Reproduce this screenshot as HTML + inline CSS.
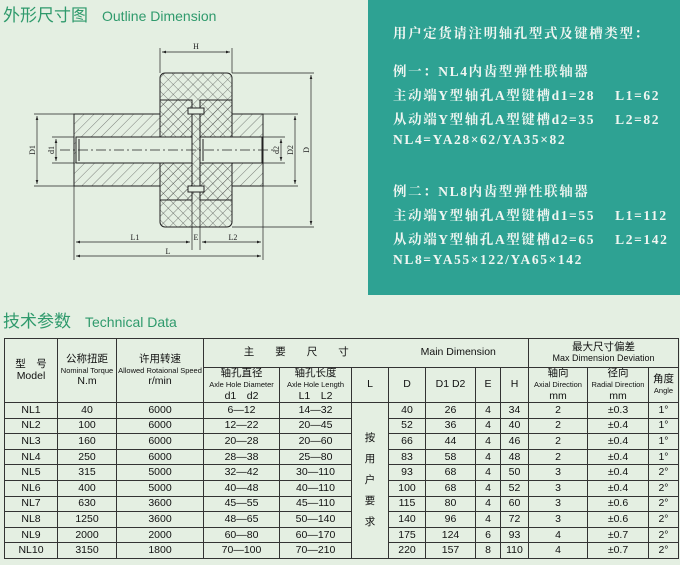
<!DOCTYPE html>
<html><head><meta charset="utf-8">
<style>
*{margin:0;padding:0;box-sizing:border-box}
body{width:680px;height:565px;background:#e4efe2;position:relative;overflow:hidden;font-family:"Liberation Sans","Noto Sans CJK SC",sans-serif}
.t1{position:absolute;left:3px;top:1px;font-size:17px;color:#2f9a6c;white-space:nowrap}
.t1 span{font-size:14px;margin-left:14px}
.t2{position:absolute;left:3px;top:307px;font-size:17px;color:#2f9a6c;white-space:nowrap}
.t2 span{font-size:14px;margin-left:14px}
.box{position:absolute;left:368px;top:0;width:312px;height:295px;background:#2ea293;color:#f0f6f2;font-family:"Liberation Serif","Noto Serif CJK SC",serif;font-weight:bold;font-size:13.5px}
.box div{position:absolute;left:25px;white-space:nowrap;letter-spacing:1.6px}
table{position:absolute;left:4px;top:338px;border-collapse:collapse;table-layout:fixed;font-family:"Liberation Sans Narrow","Liberation Sans","Noto Sans CJK SC",sans-serif;font-size:10.5px;color:#111}
td{border:1px solid #333;text-align:center;vertical-align:middle;line-height:1.05;overflow:hidden;white-space:nowrap}
.s{font-size:7.5px}
tr.d td{height:15.6px}
</style></head><body>
<div class="t1">外形尺寸图<span>Outline Dimension</span></div>
<div class="t2">技术参数<span>Technical Data</span></div>

<svg style="position:absolute;left:0;top:0" width="368" height="300">
<defs>
<pattern id="h" width="7" height="7" patternUnits="userSpaceOnUse" patternTransform="rotate(45)"><line x1="0" y1="0" x2="0" y2="7" stroke="#333" stroke-width="0.6"/></pattern>
<pattern id="x" width="7" height="7" patternUnits="userSpaceOnUse" patternTransform="rotate(45)"><line x1="0" y1="0" x2="0" y2="7" stroke="#333" stroke-width="0.6"/><line x1="0" y1="0" x2="7" y2="0" stroke="#333" stroke-width="0.6"/></pattern>
<marker id="a" markerWidth="6" markerHeight="6" refX="6" refY="3" orient="auto"><path d="M0,1 L6,3 L0,5z" fill="#222"/></marker>
<marker id="b" markerWidth="6" markerHeight="6" refX="0" refY="3" orient="auto"><path d="M6,1 L0,3 L6,5z" fill="#222"/></marker>
</defs>
<g stroke="#222" stroke-width="1">
<rect x="160" y="73" width="72" height="154" rx="5" fill="url(#x)"/>
<path d="M74,114 H160 V100 H192 V200 H160 V186 H74z" fill="url(#h)"/>
<path d="M263,114 H232 V100 H200 V200 H232 V186 H263z" fill="url(#h)"/>
<rect x="188" y="108" width="16" height="6" fill="#e4efe2"/>
<rect x="188" y="186" width="16" height="6" fill="#e4efe2"/>
<rect x="76" y="137" width="116" height="26" fill="#e4efe2"/>
<rect x="200" y="137" width="62" height="26" fill="#e4efe2"/>
<line x1="79" y1="139" x2="79" y2="161"/><line x1="203" y1="139" x2="203" y2="161"/>
</g>
<g stroke="#222" stroke-width="0.7" fill="none">
<line x1="60" y1="150" x2="275" y2="150" stroke-dasharray="10,3,2,3"/>
<line x1="160" y1="48" x2="160" y2="73"/><line x1="232" y1="48" x2="232" y2="73"/>
<line x1="162" y1="52" x2="230" y2="52" marker-start="url(#b)" marker-end="url(#a)"/>
<line x1="34" y1="114" x2="74" y2="114"/><line x1="34" y1="186" x2="74" y2="186"/>
<line x1="37" y1="116" x2="37" y2="184" marker-start="url(#b)" marker-end="url(#a)"/>
<line x1="52" y1="137" x2="74" y2="137"/><line x1="52" y1="163" x2="74" y2="163"/>
<line x1="56" y1="139" x2="56" y2="161" marker-start="url(#b)" marker-end="url(#a)"/>
<line x1="263" y1="137" x2="285" y2="137"/><line x1="263" y1="163" x2="285" y2="163"/>
<line x1="281" y1="139" x2="281" y2="161" marker-start="url(#b)" marker-end="url(#a)"/>
<line x1="263" y1="114" x2="298" y2="114"/><line x1="263" y1="186" x2="298" y2="186"/>
<line x1="295" y1="116" x2="295" y2="184" marker-start="url(#b)" marker-end="url(#a)"/>
<line x1="232" y1="73" x2="314" y2="73"/><line x1="232" y1="227" x2="314" y2="227"/>
<line x1="311" y1="75" x2="311" y2="225" marker-start="url(#b)" marker-end="url(#a)"/>
<line x1="74" y1="186" x2="74" y2="260"/><line x1="263" y1="186" x2="263" y2="260"/>
<line x1="192" y1="200" x2="192" y2="250"/><line x1="200" y1="200" x2="200" y2="250"/>
<line x1="76" y1="242" x2="190" y2="242" marker-start="url(#b)" marker-end="url(#a)"/>
<line x1="202" y1="242" x2="261" y2="242" marker-start="url(#b)" marker-end="url(#a)"/>
<line x1="76" y1="256" x2="261" y2="256" marker-start="url(#b)" marker-end="url(#a)"/>
</g>
<g font-family="Liberation Serif,serif" font-size="8" fill="#222" text-anchor="middle">
<text x="196" y="49">H</text><text x="135" y="240">L1</text><text x="233" y="240">L2</text><text x="196" y="240">E</text><text x="168" y="254">L</text>
<text transform="translate(35,150) rotate(-90)">D1</text><text transform="translate(54,150) rotate(-90)">d1</text>
<text transform="translate(279,150) rotate(-90)">d2</text><text transform="translate(293,150) rotate(-90)">D2</text><text transform="translate(309,150) rotate(-90)">D</text>
</g>
</svg>

<div class="box">
<div style="top:22px">用户定货请注明轴孔型式及键槽类型：</div>
<div style="top:60px">例一：NL4内齿型弹性联轴器</div>
<div style="top:84px">主动端Y型轴孔A型键槽d1=28　 L1=62</div>
<div style="top:108px">从动端Y型轴孔A型键槽d2=35　 L2=82</div>
<div style="top:132px">NL4=YA28×62/YA35×82</div>
<div style="top:180px">例二：NL8内齿型弹性联轴器</div>
<div style="top:204px">主动端Y型轴孔A型键槽d1=55　 L1=112</div>
<div style="top:228px">从动端Y型轴孔A型键槽d2=65　 L2=142</div>
<div style="top:252px">NL8=YA55×122/YA65×142</div>
</div>

<table>
<colgroup><col style="width:53px"><col style="width:59px"><col style="width:87px"><col style="width:76px"><col style="width:72px"><col style="width:37px"><col style="width:37px"><col style="width:50px"><col style="width:25px"><col style="width:28px"><col style="width:59px"><col style="width:61px"><col style="width:30px"></colgroup>
<tr style="height:29px"><td rowspan="2">型　号<br>Model</td><td rowspan="2">公称扭距<br><span class="s">Nominal Torque</span><br>N.m</td><td rowspan="2">许用转速<br><span class="s">Allowed Rotaional Speed</span><br>r/min</td><td colspan="3" style="border-right:none">主　　要　　尺　　寸</td><td colspan="4" style="border-left:none">Main Dimension</td><td colspan="3">最大尺寸偏差<br><span style="font-size:9px">Max Dimension Deviation</span></td></tr>
<tr style="height:35px"><td>轴孔直径<br><span class="s">Axle Hole Diameter</span><br>d1　d2</td><td>轴孔长度<br><span class="s">Axle Hole Length</span><br>L1　L2</td><td>L</td><td>D</td><td>D1 D2</td><td>E</td><td>H</td><td>轴向<br><span class="s">Axial Direction</span><br>mm</td><td>径向<br><span class="s">Radial Direction</span><br>mm</td><td>角度<br><span class="s">Angle</span></td></tr>
<tr class="d"><td>NL1</td><td>40</td><td>6000</td><td>6—12</td><td>14—32</td><td rowspan="10" style="line-height:2">按<br>用<br>户<br>要<br>求</td><td>40</td><td>26</td><td>4</td><td>34</td><td>2</td><td>±0.3</td><td>1°</td></tr>
<tr class="d"><td>NL2</td><td>100</td><td>6000</td><td>12—22</td><td>20—45</td><td>52</td><td>36</td><td>4</td><td>40</td><td>2</td><td>±0.4</td><td>1°</td></tr>
<tr class="d"><td>NL3</td><td>160</td><td>6000</td><td>20—28</td><td>20—60</td><td>66</td><td>44</td><td>4</td><td>46</td><td>2</td><td>±0.4</td><td>1°</td></tr>
<tr class="d"><td>NL4</td><td>250</td><td>6000</td><td>28—38</td><td>25—80</td><td>83</td><td>58</td><td>4</td><td>48</td><td>2</td><td>±0.4</td><td>1°</td></tr>
<tr class="d"><td>NL5</td><td>315</td><td>5000</td><td>32—42</td><td>30—110</td><td>93</td><td>68</td><td>4</td><td>50</td><td>3</td><td>±0.4</td><td>2°</td></tr>
<tr class="d"><td>NL6</td><td>400</td><td>5000</td><td>40—48</td><td>40—110</td><td>100</td><td>68</td><td>4</td><td>52</td><td>3</td><td>±0.4</td><td>2°</td></tr>
<tr class="d"><td>NL7</td><td>630</td><td>3600</td><td>45—55</td><td>45—110</td><td>115</td><td>80</td><td>4</td><td>60</td><td>3</td><td>±0.6</td><td>2°</td></tr>
<tr class="d"><td>NL8</td><td>1250</td><td>3600</td><td>48—65</td><td>50—140</td><td>140</td><td>96</td><td>4</td><td>72</td><td>3</td><td>±0.6</td><td>2°</td></tr>
<tr class="d"><td>NL9</td><td>2000</td><td>2000</td><td>60—80</td><td>60—170</td><td>175</td><td>124</td><td>6</td><td>93</td><td>4</td><td>±0.7</td><td>2°</td></tr>
<tr class="d"><td>NL10</td><td>3150</td><td>1800</td><td>70—100</td><td>70—210</td><td>220</td><td>157</td><td>8</td><td>110</td><td>4</td><td>±0.7</td><td>2°</td></tr>
</table>
</body></html>
